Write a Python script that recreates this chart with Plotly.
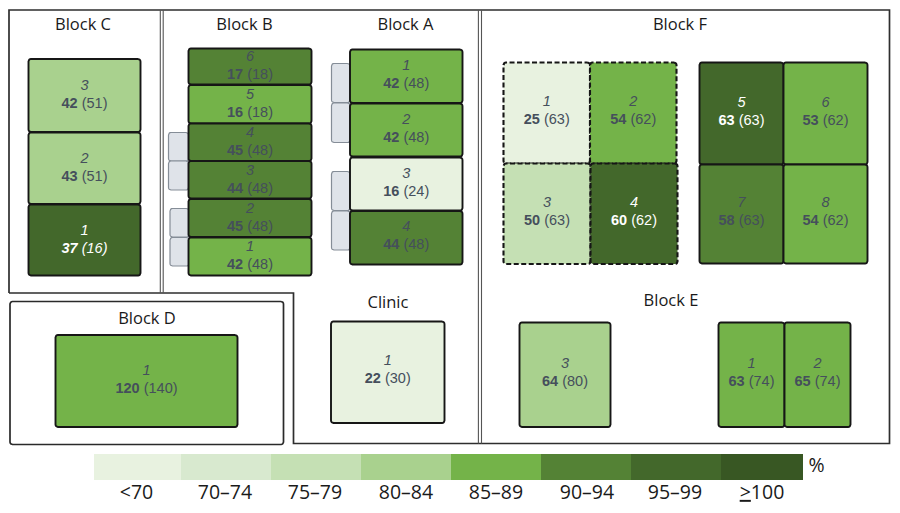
import math
import plotly.graph_objects as go

# ---------- data: values ----------
band_labels = ["<70", "70–74", "75–79", "80–84", "85–89", "90–94", "95–99", "<u>></u>100"]
band_colors = ["#e8f2e0", "#d8e9cf", "#c5e0b4", "#a9d18e", "#74b349", "#548235", "#43682b", "#385723"]

block_names = ["Block C", "Block B", "Block A", "Block F", "Block D", "Clinic", "Block E"]

block_c_rooms = ["3", "2", "1"]
block_c_counts = [42, 43, 37]
block_c_capacity = [51, 51, 16]
block_c_bands = [3, 3, 6]

block_b_rooms = ["6", "5", "4", "3", "2", "1"]
block_b_counts = [17, 16, 45, 44, 45, 42]
block_b_capacity = [18, 18, 48, 48, 48, 48]
block_b_bands = [5, 4, 5, 5, 5, 4]

block_a_rooms = ["1", "2", "3", "4"]
block_a_counts = [42, 42, 16, 44]
block_a_capacity = [48, 48, 24, 48]
block_a_bands = [4, 4, 0, 5]

block_f_rooms = ["1", "2", "3", "4", "5", "6", "7", "8"]
block_f_counts = [25, 54, 50, 60, 63, 53, 58, 54]
block_f_capacity = [63, 62, 63, 62, 63, 62, 63, 62]
block_f_bands = [0, 4, 2, 6, 6, 4, 5, 4]

block_d_rooms = ["1"]
block_d_counts = [120]
block_d_capacity = [140]
block_d_bands = [4]

clinic_rooms = ["1"]
clinic_counts = [22]
clinic_capacity = [30]
clinic_bands = [0]

block_e_rooms = ["3", "1", "2"]
block_e_counts = [64, 63, 65]
block_e_capacity = [80, 74, 74]
block_e_bands = [3, 4, 4]

# ---------- floor-plan layout (pixels of the 900x513 page) ----------
c_boxes = [(28.5, 59, 140.5, 132), (28.5, 132.5, 140.5, 204), (28.5, 204.5, 140.5, 275.5)]
b_boxes = [(188.5, 48.5, 311.5, 84.5), (188.5, 85, 311.5, 123.5), (188.5, 123.5, 311.5, 161),
           (188.5, 161, 311.5, 198.5), (188.5, 199, 311.5, 237), (188.5, 237.5, 311.5, 275.5)]
a_boxes = [(350, 49.5, 462.5, 103), (350, 103.5, 462.5, 156.5), (350, 157.5, 462.5, 210.5), (350, 211, 462.5, 264.5)]
f_boxes = [(503.5, 62.5, 590, 163.5), (590, 62.5, 676.5, 163.5), (503.5, 163.5, 590.5, 264), (590.5, 163.5, 677.5, 264),
           (699.5, 62.5, 783.5, 164.5), (783.5, 62.5, 867.5, 164.5), (699.5, 164.5, 783.5, 263.5), (783.5, 164.5, 867.5, 263.5)]
d_boxes = [(55.5, 335, 237.5, 427)]
clinic_boxes = [(331, 321.5, 444.5, 423)]
e_boxes = [(519.5, 322.5, 610.5, 427), (718.5, 322.5, 784.5, 427), (784.5, 322.5, 850.5, 427)]
tab_boxes = [(168.5, 132.5, 188.5, 161), (168.5, 161, 188.5, 190), (170, 208.5, 189, 237), (170, 237.5, 189, 266),
             (331.5, 63.5, 350, 102.5), (331.5, 103, 350, 142.5), (331.5, 171.5, 350, 210.5), (331.5, 211, 350, 250)]
title_xy = [(83, 25.5), (244.5, 25.5), (405.5, 25.5), (680, 25.5), (147, 319.5), (388, 303.5), (671, 301.5)]
legend_edges = [94, 181, 270.5, 361, 451, 541, 631, 721, 803]
legend_centers = [136.5, 225, 315, 406, 496, 587, 675, 762]
text_shift = {"C": 0, "B": 0.3, "A": -1, "F": -1.5, "D": -1, "K": -1.5, "E": -1.5}

INK = "#161616"
TEXT = "#454f5c"
WHITE_TEXT_ROOMS = {("F", "4"), ("F", "5"), ("C", "1")}

fig = go.Figure()


def rounded(x0, y0, x1, y1, r=2.5):
    xs, ys = [], []
    corners = [(x1 - r, y0 + r, -90), (x1 - r, y1 - r, 0), (x0 + r, y1 - r, 90), (x0 + r, y0 + r, 180)]
    for cx, cy, start in corners:
        for k in range(5):
            a = math.radians(start + k * 22.5)
            xs.append(cx + r * math.cos(a))
            ys.append(cy + r * math.sin(a))
    xs.append(xs[0])
    ys.append(ys[0])
    return xs, ys


def box(b, fill, color=INK, width=1.9, dash="solid", r=2.5):
    xs, ys = rounded(*b, r=r)
    fig.add_trace(go.Scatter(x=xs, y=ys, mode="lines", fill="toself", fillcolor=fill,
                             line=dict(color=color, width=width, dash=dash), hoverinfo="skip"))


def lines(xs, ys, color, width):
    fig.add_trace(go.Scatter(x=xs, y=ys, mode="lines", line=dict(color=color, width=width),
                             hoverinfo="skip"))


def labels(xs, ys, texts, family, size, color):
    fig.add_trace(go.Scatter(x=xs, y=ys, mode="text", text=texts, textposition="middle center",
                             textfont=dict(family=family, size=size, color=color), hoverinfo="skip"))


# outer walls
lines([9, 9, 889.5, 889.5, 293.5, 293.5, 9], [293, 10, 10, 443.5, 443.5, 293, 293], "#2e2e2e", 1.7)
for wx in (160.3, 163.2):
    lines([wx, wx], [10, 293], "#555555", 1.1)
for wx in (478.4, 481.5):
    lines([wx, wx], [10, 443.5], "#555555", 1.1)
box((10, 301.5, 283.5, 444.5), "rgba(0,0,0,0)", color="#2a2a2a", width=1.7)

# side tabs
for t in tab_boxes:
    box(t, "#dfe3e9", color="#858d97", width=1.2)

groups = [
    ("C", block_c_rooms, block_c_counts, block_c_capacity, block_c_bands, c_boxes),
    ("B", block_b_rooms, block_b_counts, block_b_capacity, block_b_bands, b_boxes),
    ("A", block_a_rooms, block_a_counts, block_a_capacity, block_a_bands, a_boxes),
    ("F", block_f_rooms, block_f_counts, block_f_capacity, block_f_bands, f_boxes),
    ("D", block_d_rooms, block_d_counts, block_d_capacity, block_d_bands, d_boxes),
    ("K", clinic_rooms, clinic_counts, clinic_capacity, clinic_bands, clinic_boxes),
    ("E", block_e_rooms, block_e_counts, block_e_capacity, block_e_bands, e_boxes),
]

for key, rooms, counts, caps, bands, boxes in groups:
    for i, (room, n, cap, band, b) in enumerate(zip(rooms, counts, caps, bands, boxes)):
        dashed = key == "F" and i < 4
        box(b, band_colors[band], dash="5px,2.5px" if dashed else "solid", width=2.1 if dashed else 1.9)

for key, rooms, counts, caps, bands, boxes in groups:
    tx, ty1, ty2, tt1, tt2, tc = [], [], [], [], [], []
    for room, n, cap, b in zip(rooms, counts, caps, boxes):
        cx = (b[0] + b[2]) / 2
        cy = (b[1] + b[3]) / 2 + text_shift[key]
        tx.append(cx)
        ty1.append(cy - 9)
        ty2.append(cy + 9)
        white = (key, room) in WHITE_TEXT_ROOMS
        tc.append("#ffffff" if white else TEXT)
        tt1.append(f"<i>{room}</i>")
        if (key, room) == ("C", "1"):
            tt2.append(f"<i><b>{n}</b> ({cap})</i>")
        else:
            tt2.append(f"<b>{n}</b> ({cap})")
    labels(tx, ty1, tt1, "Liberation Sans", 14.5, tc)
    labels(tx, ty2, tt2, "Liberation Sans", 14.5, tc)

# block titles
labels([p[0] for p in title_xy], [p[1] for p in title_xy], block_names, "Open Sans", 16.5, "#1a1a1a")

# colour key
for i, col in enumerate(band_colors):
    fig.add_trace(go.Bar(x=[legend_edges[i + 1] - legend_edges[i]], base=[legend_edges[i]], y=[467],
                         width=[26], orientation="h", marker=dict(color=col, line=dict(width=0)),
                         hoverinfo="skip"))
labels(legend_centers, [494] * 8, band_labels, "Open Sans", 19.5, "#1a1a1a")
labels([816.5], [467], ["%"], "Open Sans", 19.5, "#1a1a1a")

fig.update_layout(
    width=900, height=513, margin=dict(l=0, r=0, t=0, b=0), showlegend=False,
    plot_bgcolor="#ffffff", paper_bgcolor="#ffffff", barmode="overlay",
    xaxis=dict(range=[0, 900], visible=False, fixedrange=True),
    yaxis=dict(range=[513, 0], visible=False, fixedrange=True),
)
fig.write_html("out.html", include_plotlyjs=True, config={"displayModeBar": False},
               post_script="document.body.style.margin='0';document.body.style.overflow='hidden';")
